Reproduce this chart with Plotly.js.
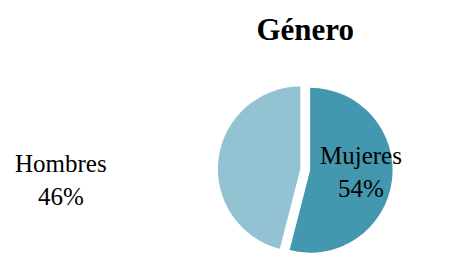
<!DOCTYPE html>
<html><head><meta charset="utf-8">
<script src="https://cdn.plot.ly/plotly-3.0.1.min.js"></script>
<style>html,body{margin:0;padding:0;background:#fff}</style>
</head><body>
<div id="chart" style="width:466px;height:257px"></div>
<script>
const labels = ["Mujeres", "Hombres"];
const values = [54, 46];
const colors = ["#4397AE", "#93C3D3"];

const total = values.reduce((a, b) => a + b, 0);
const font = "Liberation Serif, Times New Roman, serif";
const labelPos = [{x: 0.775, y: 0.33}, {x: 0.13, y: 0.30}];

Plotly.newPlot("chart", [{
  type: "pie",
  labels: labels,
  values: values,
  sort: false,
  direction: "clockwise",
  rotation: 0,
  pull: [0.06, 0.06],
  marker: {colors: colors, line: {color: "#ffffff", width: 0}},
  textinfo: "none",
  showlegend: false,
  hoverinfo: "none",
  domain: {x: [0.45, 0.86], y: [0.0, 0.68]}
}], {
  width: 466, height: 257,
  margin: {l: 0, r: 0, t: 0, b: 0},
  paper_bgcolor: "#fff",
  title: {text: "<b>Género</b>", font: {family: font, size: 31, color: "#000"}, x: 0.655, xanchor: "center", y: 0.885, yanchor: "middle"},
  annotations: labels.map((l, i) => ({
    text: l + "<br>" + Math.round(values[i] / total * 100) + "%",
    xref: "paper", yref: "paper", x: labelPos[i].x, y: labelPos[i].y,
    xanchor: "center", yanchor: "middle", showarrow: false,
    font: {family: font, size: 25, color: "#000"}
  }))
}, {displayModeBar: false, staticPlot: true});
</script>
</body></html>
